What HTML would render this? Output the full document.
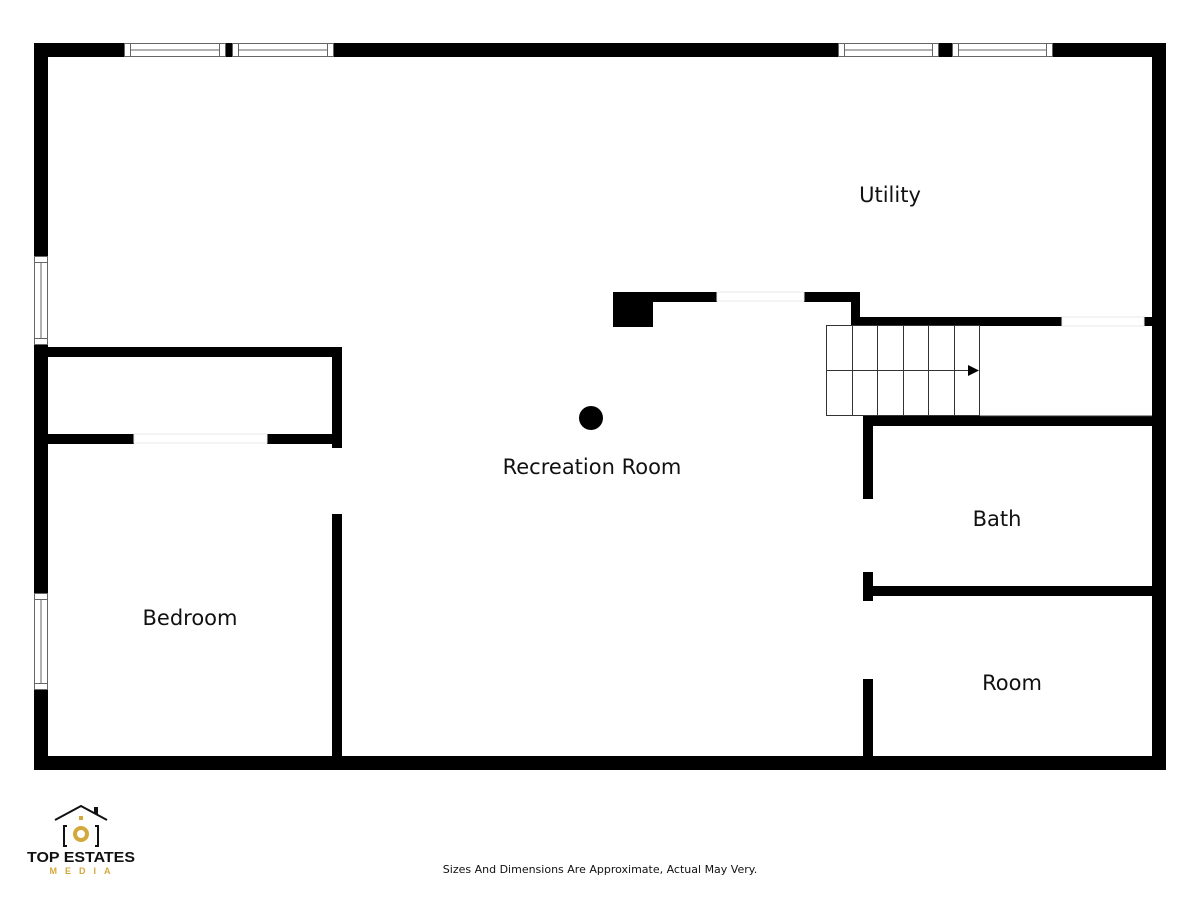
<!DOCTYPE html>
<html><head><meta charset="utf-8"><style>
html,body{margin:0;padding:0;background:#fff;}
svg text{font-family:"DejaVu Sans","Liberation Sans",sans-serif;}
</style></head><body>
<svg width="1200" height="900" viewBox="0 0 1200 900" xmlns="http://www.w3.org/2000/svg">
<rect width="1200" height="900" fill="#fff"/>
<g fill="#000">
<rect x="34" y="43" width="1132" height="14"/>
<rect x="34" y="756" width="1132" height="14"/>
<rect x="34" y="43" width="14" height="727"/>
<rect x="1152" y="43" width="14" height="727"/>
<rect x="34" y="347" width="308" height="10"/>
<rect x="34" y="434" width="100" height="10"/>
<rect x="267" y="434" width="75" height="10"/>
<rect x="332" y="347" width="10" height="101"/>
<rect x="332" y="514" width="10" height="256"/>
<rect x="613" y="292" width="40" height="35"/>
<rect x="613" y="292" width="104" height="10"/>
<rect x="804" y="292" width="56" height="10"/>
<rect x="851" y="292" width="9" height="34"/>
<rect x="851" y="317" width="211" height="9"/>
<rect x="1144" y="317" width="10" height="9"/>
<circle cx="591" cy="418" r="12"/>
<rect x="863" y="416" width="300" height="10"/>
<rect x="863" y="416" width="10" height="83"/>
<rect x="863" y="572" width="10" height="29"/>
<rect x="863" y="679" width="10" height="90"/>
<rect x="863" y="586" width="300" height="10"/>
</g>
<g fill="#fff" stroke="#e8e8e8" stroke-width="1">
<rect x="717" y="292" width="87" height="9"/>
<rect x="1062" y="317" width="82" height="9"/>
<rect x="134" y="434" width="133" height="9"/>
</g>
<g fill="#fff" stroke="#666" stroke-width="1">
<rect x="124.5" y="43.5" width="101" height="13"/>
<rect x="232.5" y="43.5" width="101" height="13"/>
<rect x="838.5" y="43.5" width="100" height="13"/>
<rect x="952.5" y="43.5" width="100" height="13"/>
<rect x="34.5" y="256.5" width="13" height="88"/>
<rect x="34.5" y="593.5" width="13" height="96"/>
</g>
<g stroke="#666" stroke-width="1">
<line x1="130" y1="50" x2="220" y2="50"/><line x1="130.5" y1="44" x2="130.5" y2="56"/><line x1="219.5" y1="44" x2="219.5" y2="56"/>
<line x1="238" y1="50" x2="328" y2="50"/><line x1="238.5" y1="44" x2="238.5" y2="56"/><line x1="327.5" y1="44" x2="327.5" y2="56"/>
<line x1="844" y1="50" x2="933" y2="50"/><line x1="844.5" y1="44" x2="844.5" y2="56"/><line x1="932.5" y1="44" x2="932.5" y2="56"/>
<line x1="958" y1="50" x2="1047" y2="50"/><line x1="958.5" y1="44" x2="958.5" y2="56"/><line x1="1046.5" y1="44" x2="1046.5" y2="56"/>
<line x1="41" y1="262" x2="41" y2="338"/><line x1="35" y1="262.5" x2="47" y2="262.5"/><line x1="35" y1="338.5" x2="47" y2="338.5"/>
<line x1="41" y1="599" x2="41" y2="684"/><line x1="35" y1="599.5" x2="47" y2="599.5"/><line x1="35" y1="683.5" x2="47" y2="683.5"/>
</g>
<g stroke="#333" stroke-width="1" fill="none">
<rect x="826.5" y="325.5" width="153" height="90"/>
<line x1="852.5" y1="325" x2="852.5" y2="416"/>
<line x1="877.5" y1="325" x2="877.5" y2="416"/>
<line x1="903.5" y1="325" x2="903.5" y2="416"/>
<line x1="928.5" y1="325" x2="928.5" y2="416"/>
<line x1="954.5" y1="325" x2="954.5" y2="416"/>
<line x1="826" y1="370.5" x2="970" y2="370.5"/>
<line x1="980" y1="416" x2="1152" y2="416"/>
</g>
<polygon points="968,365 979,370.5 968,376" fill="#000"/>
<g font-size="21" fill="#111" text-anchor="middle">
<text x="890" y="202">Utility</text>
<text x="592" y="474">Recreation Room</text>
<text x="190" y="625">Bedroom</text>
<text x="997" y="526">Bath</text>
<text x="1012" y="690">Room</text>
</g>
<text x="600" y="873" font-size="11" fill="#111" text-anchor="middle">Sizes And Dimensions Are Approximate, Actual May Very.</text>
<g>
<polyline points="55,820 81,806 107,820" fill="none" stroke="#111" stroke-width="2"/>
<rect x="94" y="807" width="4" height="7" fill="#111"/>
<path d="M67,826 h-3 v20 h3" fill="none" stroke="#111" stroke-width="2"/>
<path d="M95,826 h3 v20 h-3" fill="none" stroke="#111" stroke-width="2"/>
<circle cx="81" cy="834" r="6" fill="none" stroke="#d4a93c" stroke-width="4"/>
<rect x="79" y="816" width="4" height="4" fill="#d4a93c"/>
<text x="81" y="862" font-size="15" font-weight="bold" fill="#111" text-anchor="middle" textLength="108" lengthAdjust="spacingAndGlyphs" style="font-family:'Liberation Sans',sans-serif">TOP ESTATES</text>
<text x="84" y="874" font-size="9" font-weight="bold" fill="#d4a93c" text-anchor="middle" letter-spacing="8" style="font-family:'Liberation Sans',sans-serif">MEDIA</text>
</g>
</svg>
</body></html>
